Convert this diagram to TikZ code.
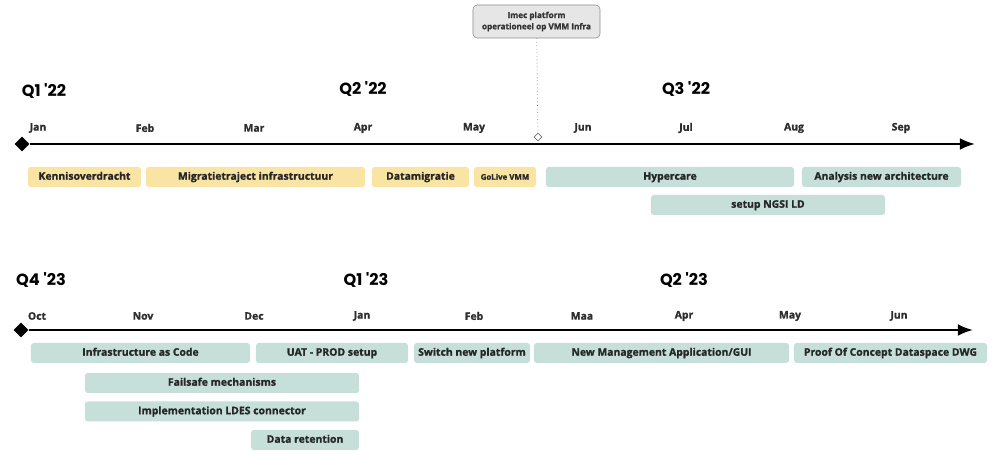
\documentclass[tikz,border=0pt]{standalone}
\usepackage{fontspec}
\usepackage{tikz}
\usetikzlibrary{arrows.meta,shapes.geometric}
\newfontfamily\poppins{Poppins}
\newfontfamily\labelsans{Open Sans}[BoldFeatures={FakeBold=1.2}]
\definecolor{taskyellow}{HTML}{F9E4A4}
\definecolor{taskteal}{HTML}{C6E0D9}
\definecolor{milegray}{HTML}{E6E6E6}
\definecolor{monthgray}{HTML}{2E2E2E}
\tikzstyle{quarter}=[font=\poppins\bfseries\fontsize{11.5}{12}\selectfont, inner sep=0pt]
\tikzstyle{month}=[font=\labelsans\bfseries\fontsize{7.4}{8}\selectfont, text=monthgray, inner sep=0pt]
\tikzstyle{task}=[rounded corners=2pt, minimum height=0.5cm, inner sep=0pt, text height=5.4pt, text depth=1.5pt, text=black!85, font=\labelsans\bfseries\fontsize{7.4}{8}\selectfont]
\tikzstyle{oldtask}=[task, fill=taskyellow]
\tikzstyle{newtask}=[task, fill=taskteal]
\tikzstyle{start}=[diamond, fill, inner sep=0pt, minimum size=0.38cm]
\tikzstyle{arrow}=[draw=black, line width=1.6pt, -{Latex[length=0.38cm, width=0.3cm]}]
\begin{document}
\begin{tikzpicture}[x=0.025cm, y=-0.025cm]
	\useasboundingbox (0, 0) rectangle (996, 451);
	% 2022 axis
	\begin{scope}
		\node (s1) at (22, 144)[start] {};
		\coordinate (e1) at (975, 144);
		\path [arrow] (s1) edge (e1);

		\node (q1a) at (44, 91)[quarter] {Q1 '22};
		\node (q2a) at (363, 89)[quarter] {Q2 '22};
		\node (q3a) at (686, 89)[quarter] {Q3 '22};

		\node (jan22) at (38, 128)[month] {Jan};
		\node (feb22) at (145, 128)[month] {Feb};
		\node (mar22) at (254, 128)[month] {Mar};
		\node (apr22) at (363, 128)[month] {Apr};
		\node (may22) at (474, 128)[month] {May};
		\node (jun22) at (583, 128)[month] {Jun};
		\node (jul22) at (686, 128)[month] {Jul};
		\node (aug22) at (794, 128)[month] {Aug};
		\node (sep22) at (901, 128)[month] {Sep};

		\node (t1) at (84.5, 177)[oldtask, minimum width=2.825cm] {Kennisoverdracht};
		\node (t2) at (255.5, 177)[oldtask, minimum width=5.475cm] {Migratietraject infrastructuur};
		\node (t3) at (420.5, 177)[oldtask, minimum width=2.425cm] {Datamigratie};
		\node (t4) at (505, 177)[oldtask, minimum width=1.55cm, font=\labelsans\bfseries\fontsize{5.6}{6}\selectfont] {GoLive VMM};
		\node (t5) at (670, 177)[newtask, minimum width=6.2cm] {Hypercare};
		\node (t6) at (881.5, 177)[newtask, minimum width=3.975cm] {Analysis new architecture};
		\node (t7) at (768, 205)[newtask, minimum width=5.85cm] {setup NGSI LD};
	\end{scope}
	% milestone
	\begin{scope}
		\node (ms) at (536.5, 21.5)[draw=black!45, fill=milegray, rounded corners=3pt, minimum width=3.175cm, minimum height=0.825cm, inner sep=0pt, align=center, text=black!80, font=\labelsans\bfseries\fontsize{5.8}{8}\selectfont] {Imec platform\\operationeel op VMM Infra};
		\node (md) at (538, 137)[diamond, draw=black!55, fill=white, inner sep=0pt, minimum size=0.2cm, line width=0.5pt] {};
		\path [draw=black!50, dotted, line width=0.5pt] (ms) edge (md);
	\end{scope}
	% 2023 axis
	\begin{scope}
		\node (s2) at (21, 330)[start] {};
		\coordinate (e2) at (973, 330);
		\path [arrow] (s2) edge (e2);

		\node (q4b) at (41, 280)[quarter] {Q4 '23};
		\node (q1b) at (366, 280)[quarter] {Q1 '23};
		\node (q2b) at (684, 280)[quarter] {Q2 '23};

		\node (oct) at (37, 316)[month] {Oct};
		\node (nov) at (143, 316)[month] {Nov};
		\node (dec) at (254, 316)[month] {Dec};
		\node (jan23) at (362, 316)[month] {Jan};
		\node (feb23) at (474, 316)[month] {Feb};
		\node (maa23) at (582, 316)[month] {Maa};
		\node (apr23) at (684, 316)[month] {Apr};
		\node (may23) at (790, 316)[month] {May};
		\node (jun23) at (899, 316)[month] {Jun};

		\node (u1) at (140.5, 353)[newtask, minimum width=5.475cm] {Infrastructure as Code};
		\node (u2) at (332, 353)[newtask, minimum width=3.8cm] {UAT - PROD setup};
		\node (u3) at (472, 353)[newtask, minimum width=2.9cm] {Switch new platform};
		\node (u4) at (661.5, 353)[newtask, minimum width=6.375cm] {New Management Application/GUI};
		\node (u5) at (890.5, 353)[newtask, minimum width=4.825cm] {Proof Of Concept Dataspace DWG};
		\node (u6) at (222, 383)[newtask, minimum width=6.85cm] {Failsafe mechanisms};
		\node (u7) at (222, 411.5)[newtask, minimum width=6.85cm] {Implementation LDES connector};
		\node (u8) at (305, 440)[newtask, minimum width=2.7cm] {Data retention};
	\end{scope}
\end{tikzpicture}
\end{document}
